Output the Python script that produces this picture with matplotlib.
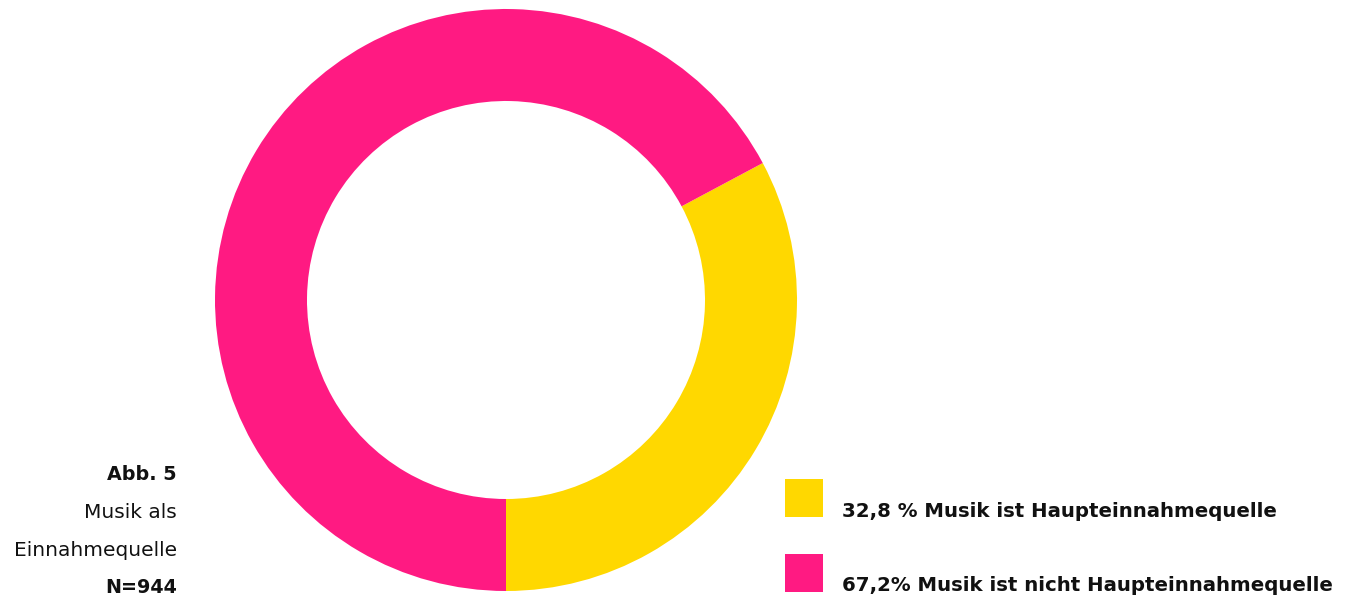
import matplotlib.pyplot as plt
from matplotlib.patches import Rectangle

# data
labels = ['32,8 % Musik ist Haupteinnahmequelle', '67,2% Musik ist nicht Haupteinnahmequelle']
shares = [32.8, 67.2]
colors = ['#ffd800', '#ff1a82']
side_text = ['Abb. 5', 'Musik als', 'Einnahmequelle', 'N=944']

plt.rcParams['font.family'] = ['DejaVu Sans']

W, H = 1347, 597
fig = plt.figure(figsize=(W / 100, H / 100), dpi=100)
ax = fig.add_axes([0, 0, 1, 1])

# donut, coordinates in pixels (y up)
ax.pie(shares, colors=colors, startangle=-90, counterclock=True,
       center=(506, H - 300), radius=291,
       wedgeprops=dict(width=92, linewidth=0))

ax.set_xlim(0, W)
ax.set_ylim(0, H)
ax.set_aspect('equal')
ax.axis('off')

# legend
for i, (lab, col) in enumerate(zip(labels, colors)):
    top = 479 + i * 75
    ax.add_patch(Rectangle((785, H - top - 38), 38, 38, color=col, lw=0))
    ax.text(842, H - (517 + i * 74), lab, fontsize=14.2, fontweight='bold',
            ha='left', va='baseline', color='#111111')

# side caption
baselines = [480, 518, 556, 593]
weights = ['bold', 'normal', 'normal', 'bold']
sizes = [13.8, 14.5, 14.5, 13.8]
for t, b, w, s in zip(side_text, baselines, weights, sizes):
    ax.text(177, H - b, t, fontsize=s, fontweight=w, ha='right',
            va='baseline', color='#111111')

fig.savefig('out.png', dpi=100)
